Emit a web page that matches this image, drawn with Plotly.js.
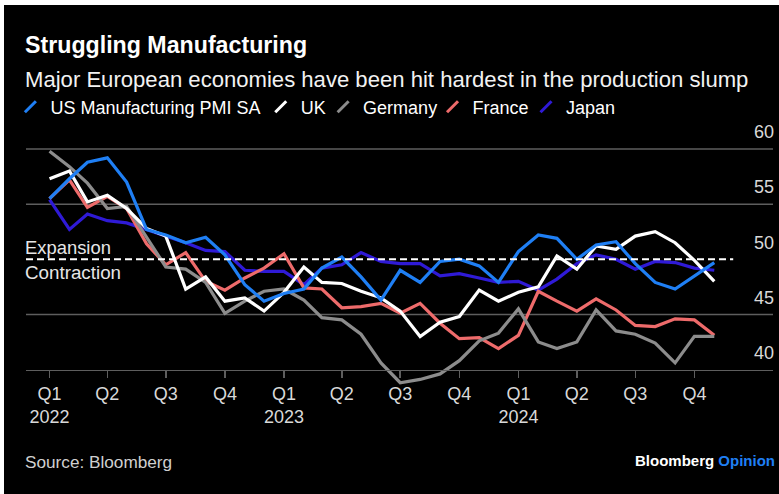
<!DOCTYPE html>
<html>
<head>
<meta charset="utf-8">
<script src="https://cdn.plot.ly/plotly-3.0.1.min.js"></script>
<style>
  html, body { margin: 0; padding: 0; background: #ffffff; }
  #chart { position: absolute; left: 4px; top: 5px; width: 775px; height: 489px; }
</style>
</head>
<body>
<div id="chart"></div>
<script>
// ---- data (monthly PMI, Jan 2022 - Nov 2024) ----
const months = [
  '2022-01-01','2022-02-01','2022-03-01','2022-04-01','2022-05-01','2022-06-01',
  '2022-07-01','2022-08-01','2022-09-01','2022-10-01','2022-11-01','2022-12-01',
  '2023-01-01','2023-02-01','2023-03-01','2023-04-01','2023-05-01','2023-06-01',
  '2023-07-01','2023-08-01','2023-09-01','2023-10-01','2023-11-01','2023-12-01',
  '2024-01-01','2024-02-01','2024-03-01','2024-04-01','2024-05-01','2024-06-01',
  '2024-07-01','2024-08-01','2024-09-01','2024-10-01','2024-11-01'
];
const usPMI = [55.5,57.3,58.8,59.2,57.0,52.7,52.2,51.5,52.0,50.4,47.7,46.2,
               46.9,47.3,49.2,50.2,48.4,46.3,49.0,47.9,49.8,50.0,49.4,47.9,
               50.7,52.2,51.9,50.0,51.3,51.6,49.6,47.9,47.3,48.5,49.7];
const ukPMI = [57.3,58.0,55.2,55.8,54.6,52.8,52.1,47.3,48.4,46.2,46.5,45.3,
               47.0,49.3,47.9,47.8,47.1,46.5,45.3,43.0,44.3,44.8,47.2,46.2,
               47.0,47.5,50.3,49.1,51.2,50.9,52.1,52.5,51.5,49.9,48.0];
const germanyPMI = [59.8,58.4,56.9,54.6,54.8,52.0,49.3,49.1,47.9,45.1,46.2,47.1,
               47.3,46.3,44.7,44.5,43.2,40.6,38.8,39.1,39.6,40.8,42.6,43.3,
               45.5,42.5,41.9,42.5,45.4,43.5,43.2,42.4,40.6,43.0,43.0];
const francePMI = [55.5,57.2,54.7,55.7,54.6,51.4,49.5,50.6,48.0,47.2,48.3,49.2,
               50.5,47.4,47.3,45.6,45.7,46.0,45.1,46.0,44.2,42.8,42.9,41.9,
               43.1,47.1,46.2,45.3,46.4,45.4,44.0,43.9,44.6,44.5,43.1];
const japanPMI = [55.4,52.7,54.1,53.5,53.3,52.7,52.1,51.5,50.8,50.7,49.0,48.9,
               48.9,47.7,49.2,49.5,50.6,49.8,49.6,49.6,48.5,48.7,48.3,47.9,
               48.0,47.2,48.2,49.6,50.4,50.0,49.1,49.8,49.7,49.2,49.0];

const seriesNames = ['US Manufacturing PMI SA','UK','Germany','France','Japan'];
const seriesValues = [usPMI, ukPMI, germanyPMI, francePMI, japanPMI];
const seriesColors = ['#1f7ff4','#ffffff','#8c8c8c','#ee6b6b','#2f1ad6'];

const tickDates = ['2022-01-01','2022-04-01','2022-07-01','2022-10-01',
                   '2023-01-01','2023-04-01','2023-07-01','2023-10-01',
                   '2024-01-01','2024-04-01','2024-07-01','2024-10-01'];
const tickLabels = ['Q1<br>2022','Q2','Q3','Q4','Q1<br>2023','Q2','Q3','Q4','Q1<br>2024','Q2','Q3','Q4'];
const yTicks = [40,45,50,55,60];
const gridValues = [45,55,60];
const threshold = 50;

// ---- geometry ----
const W = 775, H = 489;
const M = {l: 18, r: 6, t: 110, b: 97};
const PW = W - M.l - M.r, PH = H - M.t - M.b;
const yRange = [37.506, 63.084];
const xRange = ['2021-11-25 08:00', '2025-01-31 10:00'];
const px = x => (x - M.l) / PW;
const py = y => (H - M.b - y) / PH;
const FONT = 'Liberation Sans, Arial, Helvetica, sans-serif';
const legendLeft = [2.3, 254, 316.7, 426.7, 520.7];   // pixel left of each legend entry

const traces = [];
// plotted lines (first series drawn last so it sits on top)
for (let i = seriesNames.length - 1; i >= 0; i--) {
  traces.push({
    x: months, y: seriesValues[i], type: 'scatter', mode: 'lines',
    name: seriesNames[i], showlegend: false,
    line: {color: seriesColors[i], width: 3.2},
    hoverinfo: 'skip'
  });
}
// legend entries with slash symbols, one legend per entry
const legendKeys = ['legend','legend2','legend3','legend4','legend5'];
for (let i = 0; i < seriesNames.length; i++) {
  traces.push({
    x: [null], y: [null], type: 'scatter', mode: 'markers',
    name: seriesNames[i], showlegend: true, legend: legendKeys[i],
    marker: {symbol: 'line-ne', size: 11, color: seriesColors[i],
             line: {color: seriesColors[i], width: 3}},
    hoverinfo: 'skip'
  });
}

const shapes = gridValues.map(v => ({
  type: 'line', xref: 'paper', yref: 'y', x0: 0, x1: 1, y0: v, y1: v,
  line: {color: '#5e5e5e', width: 1.5}, layer: 'below'
}));
shapes.push({
  type: 'line', xref: 'paper', yref: 'y', x0: 0, x1: px(729), y0: threshold, y1: threshold,
  line: {color: '#ffffff', width: 2, dash: '7px,4px'}, layer: 'above'
});

const annotations = [
  {text: '<b>Struggling Manufacturing</b>', x: px(15), y: py(40), xanchor: 'left', yanchor: 'middle',
   font: {size: 23.2, color: '#ffffff', family: FONT}},
  {text: 'Major European economies have been hit hardest in the production slump', x: px(15), y: py(74),
   xanchor: 'left', yanchor: 'middle', font: {size: 22.1, color: '#f2f2f2', family: FONT}},
  {text: 'Expansion', x: px(14.5), y: py(242), xanchor: 'left', yanchor: 'middle',
   font: {size: 18.4, color: '#e6e6e6', family: FONT}},
  {text: 'Contraction', x: px(14.5), y: py(267), xanchor: 'left', yanchor: 'middle',
   font: {size: 18.8, color: '#e6e6e6', family: FONT}},
  {text: 'Source: Bloomberg', x: px(15), y: py(457), xanchor: 'left', yanchor: 'middle',
   font: {size: 17.2, color: '#d0d0d0', family: FONT}},
  {text: '<b>Bloomberg</b> <b><span style="color:#1f7ff4">Opinion</span></b>', x: px(773), y: py(456),
   xanchor: 'right', yanchor: 'middle', font: {size: 15, color: '#ffffff', family: FONT}}
].map(a => Object.assign({xref: 'paper', yref: 'paper', showarrow: false, align: 'left'}, a));

const layout = {
  width: W, height: H,
  margin: M,
  paper_bgcolor: '#000000', plot_bgcolor: '#000000',
  font: {family: FONT, color: '#d9d9d9', size: 18},
  showlegend: true,
  xaxis: {
    type: 'date', range: xRange, anchor: 'free',
    position: (40 - yRange[0]) / (yRange[1] - yRange[0]),
    tickmode: 'array', tickvals: tickDates, ticktext: tickLabels,
    showgrid: false, zeroline: false, showline: true, linecolor: '#5e5e5e', linewidth: 1.5,
    ticks: 'outside', ticklen: 7, tickwidth: 1.5, tickcolor: '#5e5e5e',
    tickfont: {size: 18, color: '#d9d9d9', family: FONT}, fixedrange: true
  },
  yaxis: {
    range: yRange, side: 'right', tickmode: 'array', tickvals: yTicks,
    showgrid: false, zeroline: false, showline: false, ticks: '',
    ticklabelposition: 'inside', ticklabelshift: -17, ticklabelstandoff: -4,
    tickfont: {size: 18, color: '#d9d9d9', family: FONT}, fixedrange: true
  },
  shapes: shapes,
  annotations: annotations
};
legendKeys.forEach((k, i) => {
  layout[k] = {orientation: 'h', x: px(legendLeft[i]), y: py(102), xanchor: 'left', yanchor: 'middle',
               font: {size: 18, color: '#ffffff', family: FONT}, bgcolor: 'rgba(0,0,0,0)',
               itemclick: false, itemdoubleclick: false};
});

Plotly.newPlot('chart', traces, layout, {displayModeBar: false, staticPlot: true});
</script>
</body>
</html>
